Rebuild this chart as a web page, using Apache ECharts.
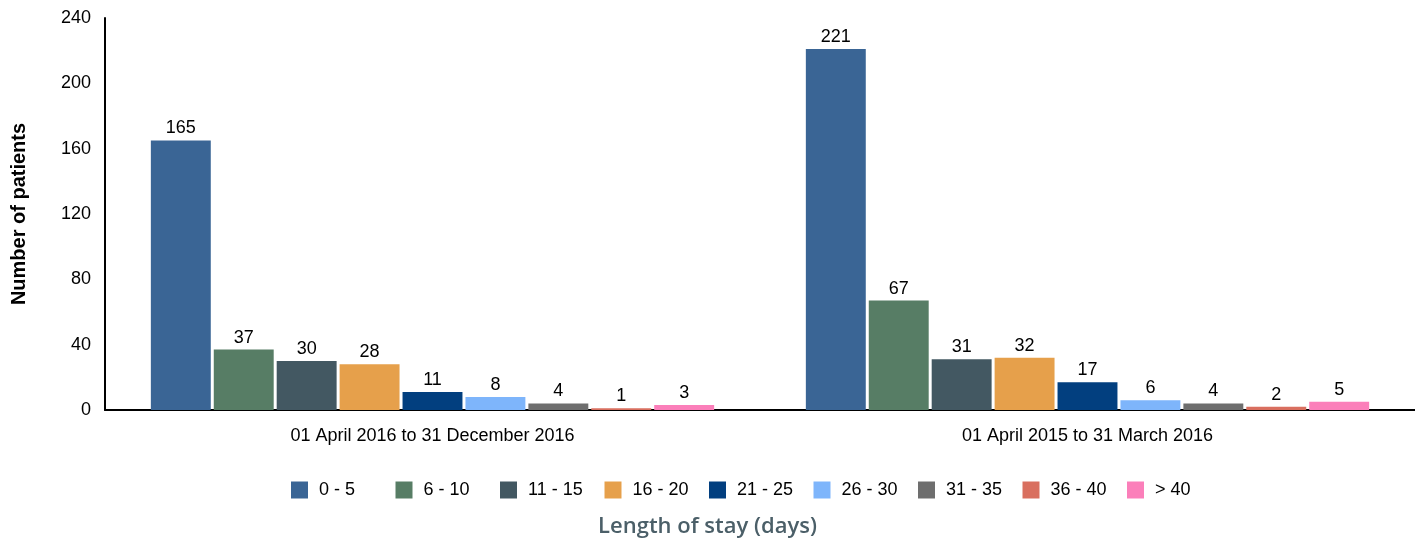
<!DOCTYPE html>
<html>
<head>
<meta charset="utf-8">
<script src="https://cdn.jsdelivr.net/npm/echarts@6/dist/echarts.min.js"></script>
<style>
  html, body { margin: 0; padding: 0; background: #fff; }
  #chart { width: 1415px; height: 542px; }
</style>
</head>
<body>
<div id="chart"></div>
<script>
// periods on the x axis
const periods = ['01 April 2016 to 31 December 2016', '01 April 2015 to 31 March 2016'];
// length-of-stay bands (one series each)
const bands = ['0 - 5', '6 - 10', '11 - 15', '16 - 20', '21 - 25', '26 - 30', '31 - 35', '36 - 40', '> 40'];
const bandColors = ['#3a6595', '#577d65', '#435862', '#e6a04b', '#023f7f', '#7eb5fb', '#6e6e6e', '#d96f5f', '#fb7fba'];
// patients per band, [2016/17 period, 2015/16 period]
const band0to5 = [165, 221];
const band6to10 = [37, 67];
const band11to15 = [30, 31];
const band16to20 = [28, 32];
const band21to25 = [11, 17];
const band26to30 = [8, 6];
const band31to35 = [4, 4];
const band36to40 = [1, 2];
const bandOver40 = [3, 5];
const yTicks = [0, 40, 80, 120, 160, 200, 240];

const values = [band0to5, band6to10, band11to15, band16to20, band21to25,
  band26to30, band31to35, band36to40, bandOver40];

const font = 'Liberation Sans, Arial, sans-serif';

const series = bands.map((name, i) => ({
  name: name,
  type: 'bar',
  barGap: '5%',
  barCategoryGap: '14%',
  itemStyle: { color: bandColors[i] },
  label: {
    show: true,
    position: 'top',
    distance: 3,
    color: '#000',
    fontSize: 18,
    fontFamily: font
  },
  data: values[i]
}));

// excel-style legend: every entry gets the same slot width
const legends = bands.map((name, i) => ({
  data: [name],
  left: 291 + i * 104.5,
  top: 481,
  padding: 0,
  itemWidth: 17,
  itemHeight: 17,
  icon: 'rect',
  textStyle: {
    color: '#000',
    fontSize: 18,
    fontFamily: font,
    padding: [0, 0, 0, 6]
  }
}));

const chart = echarts.init(document.getElementById('chart'));
chart.setOption({
  backgroundColor: '#fff',
  animation: false,
  title: {
    text: 'Length of stay (days)',
    left: 'center',
    top: 511,
    textStyle: {
      color: '#4b5f68',
      fontSize: 22,
      fontWeight: 600,
      fontFamily: 'Open Sans, sans-serif'
    }
  },
  legend: legends,
  grid: { left: 105, right: 0, top: 18, bottom: 132, containLabel: false },
  xAxis: {
    type: 'category',
    data: periods,
    axisLine: { lineStyle: { color: '#000', width: 2 } },
    axisTick: { show: false },
    axisLabel: { color: '#000', fontSize: 18, fontFamily: font, margin: 17 }
  },
  yAxis: {
    type: 'value',
    min: yTicks[0],
    max: yTicks[yTicks.length - 1],
    interval: 40,
    name: 'Number of patients',
    nameLocation: 'middle',
    nameGap: 76,
    nameTextStyle: { color: '#000', fontSize: 20, fontWeight: 'bold', fontFamily: font },
    axisLine: { show: true, lineStyle: { color: '#000', width: 2 } },
    axisTick: { show: false },
    splitLine: { show: false },
    axisLabel: { color: '#000', fontSize: 18, fontFamily: font, margin: 14 }
  },
  series: series
});
</script>
</body>
</html>
